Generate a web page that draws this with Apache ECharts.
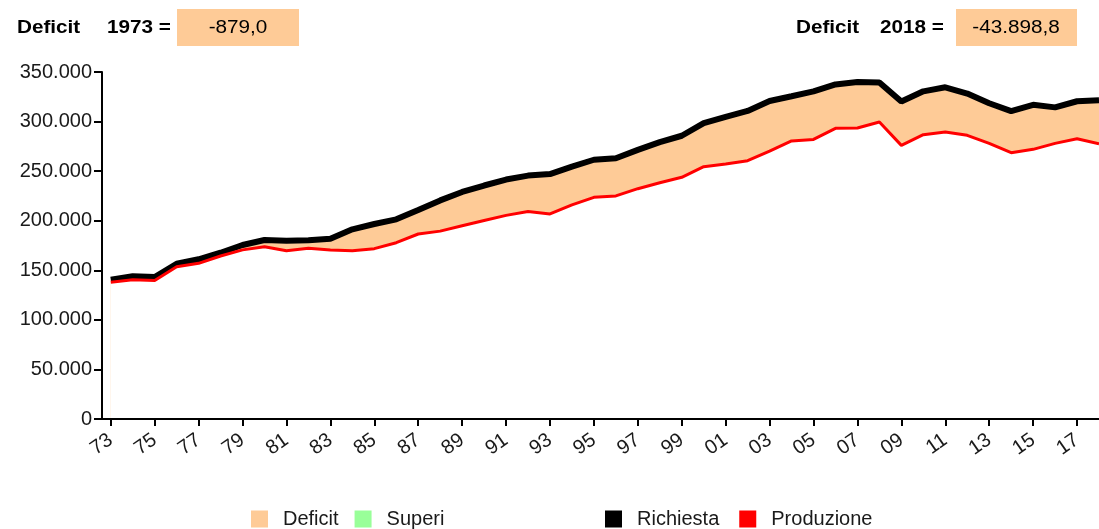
<!DOCTYPE html>
<html>
<head>
<meta charset="utf-8">
<script src="https://cdn.jsdelivr.net/npm/echarts@6/dist/echarts.min.js"></script>
<style>
    html, body { margin: 0; padding: 0; background: #fff; }
    #chart { width: 1099px; height: 529px; }
</style>
</head>
<body>
<div id="chart"></div>
<script>
// anni 1973..2018
var years = [];
for (var y = 1973; y <= 2018; y++) years.push(y);

// GWh
var richiesta = [
    140400, 143900, 143200, 156600, 161100, 167700, 175500, 180500, 179800, 180200,
    181900, 191300, 196700, 201400, 210800, 220500, 229000, 235500, 241500, 245500,
    247000, 254500, 261500, 263000, 271500, 279300, 285700, 298500, 304800, 310700,
    320700, 325500, 330400, 337500, 339900, 339500, 320300, 330500, 334600, 328200,
    318500, 310500, 316900, 314300, 320500, 321400
];
var produzione = [
    138000, 140400, 139600, 153600, 157000, 164400, 170600, 173800, 169700, 172200,
    170400, 169700, 171800, 177800, 186600, 189500, 195000, 200300, 205400, 209300,
    206800, 216000, 223600, 225000, 232300, 238300, 243800, 254500, 257200, 260500,
    270200, 280500, 282000, 293200, 293500, 299500, 276000, 286800, 289500, 286100,
    278000, 268600, 272000, 278000, 282700, 277500
];
var tickYears = years.filter(function (y) { return y % 2 === 1; });
var deficitFirst = '-879,0';
var deficitLast = '-43.898,8';

var FONT = '"Liberation Sans", Arial, sans-serif';
var PEACH = '#FECB97';
var SX = 1.15; // il testo originale è un po' allargato

function pairs(vals) {
    return years.map(function (y, i) { return [y, vals[i]]; });
}

function fmt(v) {
    return String(v).replace(/\B(?=(\d{3})+(?!\d))/g, '.');
}

function label(txt, x, bold, align) {
    return {
        type: 'text', x: x, y: 28, scaleX: SX,
        style: {
            text: txt,
            font: (bold ? 'bold ' : '') + '18px ' + FONT,
            fill: '#000',
            align: align || 'left',
            verticalAlign: 'middle'
        }
    };
}

var chart = echarts.init(document.getElementById('chart'));

var legendText = { fontSize: 20, color: '#1a1a1a', fontFamily: FONT, padding: [0, 0, 0, 10] };

var option = {
    animation: false,
    backgroundColor: '#fff',
    textStyle: { fontFamily: FONT },
    grid: { left: 102, right: 0, top: 72, bottom: 110 },
    xAxis: {
        type: 'value',
        min: 1972.6,
        max: 2018,
        z: 10,
        splitLine: { show: false },
        axisLine: { lineStyle: { color: '#000', width: 2 } },
        axisTick: {
            customValues: tickYears,
            length: 7,
            lineStyle: { color: '#000', width: 2 }
        },
        axisLabel: {
            customValues: tickYears,
            rotate: 35,
            margin: 19,
            fontSize: 20,
            color: '#1a1a1a',
            fontFamily: FONT,
            formatter: function (v) { return String(v).slice(2); }
        }
    },
    yAxis: {
        type: 'value',
        min: 0,
        max: 350000,
        interval: 50000,
        z: 10,
        splitLine: { show: false },
        axisLine: { show: true, lineStyle: { color: '#000', width: 2 } },
        axisTick: { show: true, length: 8, lineStyle: { color: '#000', width: 2 } },
        axisLabel: {
            fontSize: 20,
            margin: 10,
            color: '#1a1a1a',
            fontFamily: FONT,
            formatter: fmt
        }
    },
    legend: [{
        left: 246,
        top: 504,
        icon: 'rect',
        itemWidth: 17,
        itemHeight: 17,
        itemGap: 16,
        textStyle: legendText,
        data: ['Deficit', 'Superi']
    }, {
        left: 600,
        top: 504,
        icon: 'rect',
        itemWidth: 17,
        itemHeight: 17,
        itemGap: 20,
        textStyle: legendText,
        data: ['Richiesta', 'Produzione']
    }],
    graphic: [
        label('Deficit', 17, true),
        label('1973 =', 107, true),
        { type: 'rect', shape: { x: 177, y: 9, width: 122, height: 37 }, style: { fill: PEACH } },
        label(deficitFirst, 238, false, 'center'),
        label('Deficit', 796, true),
        label('2018 =', 880, true),
        { type: 'rect', shape: { x: 956, y: 9, width: 121, height: 37 }, style: { fill: PEACH } },
        label(deficitLast, 1016, false, 'center')
    ],
    series: [{
        // area richiesta (pesca), poi coperta di bianco sotto la produzione
        name: 'Deficit',
        type: 'line',
        data: pairs(richiesta),
        symbol: 'none',
        color: PEACH,
        lineStyle: { width: 0, opacity: 0 },
        areaStyle: { color: PEACH, opacity: 1 },
        z: 1
    }, {
        name: 'mask',
        type: 'line',
        data: pairs(produzione),
        symbol: 'none',
        lineStyle: { width: 0, opacity: 0 },
        areaStyle: { color: '#fff', opacity: 1 },
        silent: true,
        z: 2
    }, {
        name: 'Superi',
        type: 'line',
        data: [],
        color: '#99FF99'
    }, {
        name: 'Richiesta',
        type: 'line',
        data: pairs(richiesta),
        symbol: 'none',
        color: '#000',
        lineStyle: { color: '#000', width: 6 },
        z: 3
    }, {
        name: 'Produzione',
        type: 'line',
        data: pairs(produzione),
        symbol: 'none',
        color: '#FF0000',
        lineStyle: { color: '#FF0000', width: 3 },
        z: 4
    }]
};

chart.setOption(option);
</script>
</body>
</html>
